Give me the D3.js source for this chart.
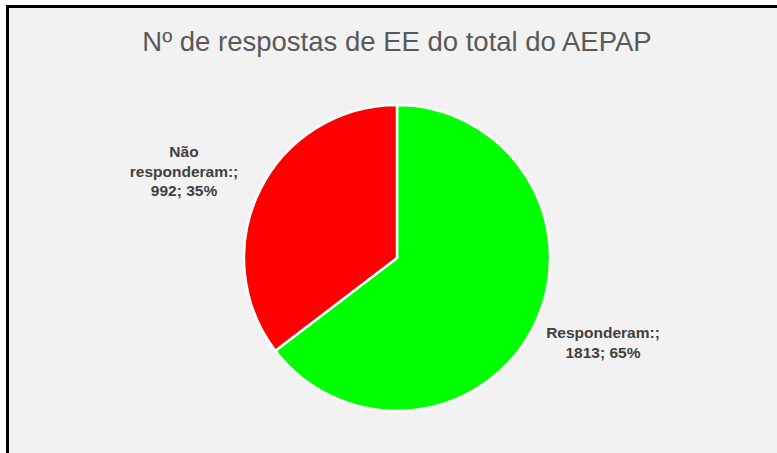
<!DOCTYPE html>
<html>
<head>
<meta charset="utf-8">
<script src="https://cdn.jsdelivr.net/npm/d3@7"></script>
<style>
  body { margin: 0; background: #ffffff; }
  svg { display: block; }
</style>
</head>
<body>
<script>
// data
var categories = ["Responderam:", "Não responderam:"];
var values = [1813, 992];
var colors = ["#00ff00", "#ff0000"];
var title = "Nº de respostas de EE do total do AEPAP";

var svgWidth = 777;
var svgHeight = 453;

var svg = d3.select("body")
    .append("svg")
    .attr("width", svgWidth)
    .attr("height", svgHeight);

// chart area background with border on left/top
svg.append("rect")
    .attr("x", 7.5)
    .attr("y", 6.5)
    .attr("width", svgWidth)
    .attr("height", svgHeight)
    .attr("fill", "#f2f2f2")
    .attr("stroke", "#000")
    .attr("stroke-width", 3);

svg.append("text")
    .attr("x", 397)
    .attr("y", 51)
    .attr("text-anchor", "middle")
    .style("font-family", "Liberation Sans, Arial, sans-serif")
    .style("font-size", "27.5px")
    .attr("fill", "#595959")
    .text(title);

var cx = 397, cy = 258, radius = 153;
var total = d3.sum(values);

var pie = d3.pie().sort(null).value(d => d.value);
var arc = d3.arc().innerRadius(0).outerRadius(radius);

var data = categories.map((c, i) => ({ name: c, value: values[i], color: colors[i] }));

var pieGroup = svg.append("g")
    .attr("transform", `translate(${cx}, ${cy})`);

pieGroup.selectAll("path")
    .data(pie(data))
    .enter()
    .append("path")
    .attr("d", arc)
    .attr("fill", d => d.data.color)
    .attr("stroke", "#ffffff")
    .attr("stroke-width", 2.5);

// label lines, positions outside the pie
var labelPos = [
    { x: 603, y: 338, lines: null },
    { x: 184, y: 157, lines: null }
];
labelPos[0].lines = [categories[0] + ";", values[0] + "; " + Math.round(values[0] / total * 100) + "%"];
labelPos[1].lines = ["Não", "responderam:;", values[1] + "; " + Math.round(values[1] / total * 100) + "%"];

labelPos.forEach(function(lp) {
    var t = svg.append("text")
        .attr("text-anchor", "middle")
        .style("font-family", "Liberation Sans, Arial, sans-serif")
        .style("font-size", "15.5px")
        .style("font-weight", "bold")
        .attr("fill", "#404040");
    lp.lines.forEach(function(line, i) {
        t.append("tspan")
            .attr("x", lp.x)
            .attr("y", lp.y + i * 19.5)
            .text(line);
    });
});
</script>
</body>
</html>
